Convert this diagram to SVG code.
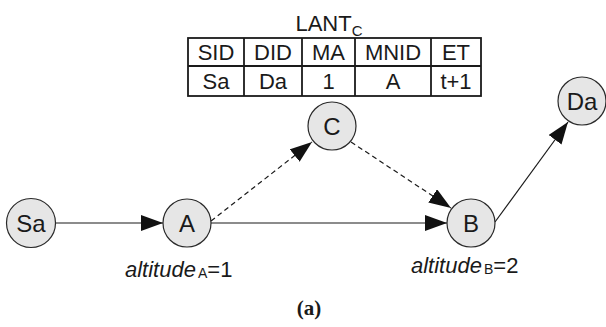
<svg xmlns="http://www.w3.org/2000/svg" width="606" height="327" viewBox="0 0 606 327">
  <style>
    .node circle { fill: #e6e6e6; stroke: #2a2a2a; stroke-width: 1.2; }
    .node text { font-family: "Liberation Sans", Arial, sans-serif; font-size: 24px; text-anchor: middle; fill: #1a1a1a; }
    .edge { stroke: #1a1a1a; stroke-width: 1.2; fill: none; }
    .dash { stroke-dasharray: 5 3.5; }
    .tbl line, .tbl rect { stroke: #1a1a1a; stroke-width: 1.8; fill: none; }
    .tbl text { font-family: "Liberation Sans", Arial, sans-serif; font-size: 22px; text-anchor: middle; fill: #1a1a1a; }
    .lbl { font-family: "Liberation Sans", Arial, sans-serif; font-size: 22px; fill: #1a1a1a; }
    .cap { font-family: "Liberation Serif", "Times New Roman", serif; font-size: 21px; font-weight: bold; text-anchor: middle; fill: #1a1a1a; }
  </style>
  <defs>
    <marker id="arrow" markerUnits="userSpaceOnUse" markerWidth="24" markerHeight="18" refX="22" refY="8" orient="auto">
      <path d="M0,0 L22,8 L0,16 Z" fill="#111"/>
    </marker>
  </defs>

  <rect width="606" height="327" fill="#ffffff"/>

  <!-- LANT table for node C -->
  <g id="lant-table" class="tbl">
    <text x="329" y="31">LANT<tspan font-size="15" dy="5">C</tspan></text>
    <rect x="188" y="38" width="293" height="58"/>
    <line x1="188" y1="66" x2="481" y2="66"/>
    <line x1="244" y1="38" x2="244" y2="96"/>
    <line x1="302" y1="38" x2="302" y2="96"/>
    <line x1="355" y1="38" x2="355" y2="96"/>
    <line x1="431" y1="38" x2="431" y2="96"/>
    <text x="216" y="60">SID</text>
    <text x="273" y="60">DID</text>
    <text x="328.5" y="60">MA</text>
    <text x="393" y="60">MNID</text>
    <text x="456" y="60">ET</text>
    <text x="216" y="89">Sa</text>
    <text x="273" y="89">Da</text>
    <text x="328.5" y="89">1</text>
    <text x="393" y="89">A</text>
    <text x="456" y="89">t+1</text>
  </g>

  <!-- connectors -->
  <g id="edges">
    <line class="edge" x1="56" y1="223" x2="163" y2="223" marker-end="url(#arrow)"/>
    <line class="edge" x1="211" y1="223" x2="447" y2="223" marker-end="url(#arrow)"/>
    <line class="edge dash" x1="211" y1="221" x2="312" y2="142" marker-end="url(#arrow)"/>
    <line class="edge dash" x1="351" y1="142" x2="451" y2="208" marker-end="url(#arrow)"/>
    <line class="edge" x1="495" y1="222" x2="568" y2="122" marker-end="url(#arrow)"/>
  </g>

  <!-- nodes -->
  <g id="node-Sa" class="node">
    <circle cx="31" cy="223" r="24.5"/>
    <text x="31" y="231.5">Sa</text>
  </g>
  <g id="node-A" class="node">
    <circle cx="187" cy="223" r="24"/>
    <text x="187" y="231.5">A</text>
  </g>
  <g id="node-B" class="node">
    <circle cx="471" cy="223" r="24"/>
    <text x="471" y="231.5">B</text>
  </g>
  <g id="node-C" class="node">
    <circle cx="332" cy="126" r="24"/>
    <text x="332" y="134.5">C</text>
  </g>
  <g id="node-Da" class="node">
    <circle cx="582" cy="101" r="24"/>
    <text x="582" y="109.5">Da</text>
  </g>

  <!-- altitude labels -->
  <text class="lbl" x="125" y="277"><tspan font-style="italic">altitude</tspan><tspan font-size="14" dx="2" dy="1">A</tspan><tspan dy="-1">=1</tspan></text>
  <text class="lbl" x="411" y="273"><tspan font-style="italic">altitude</tspan><tspan font-size="14" dx="2" dy="1">B</tspan><tspan dy="-1">=2</tspan></text>

  <text class="cap" x="309" y="315">(a)</text>
</svg>
